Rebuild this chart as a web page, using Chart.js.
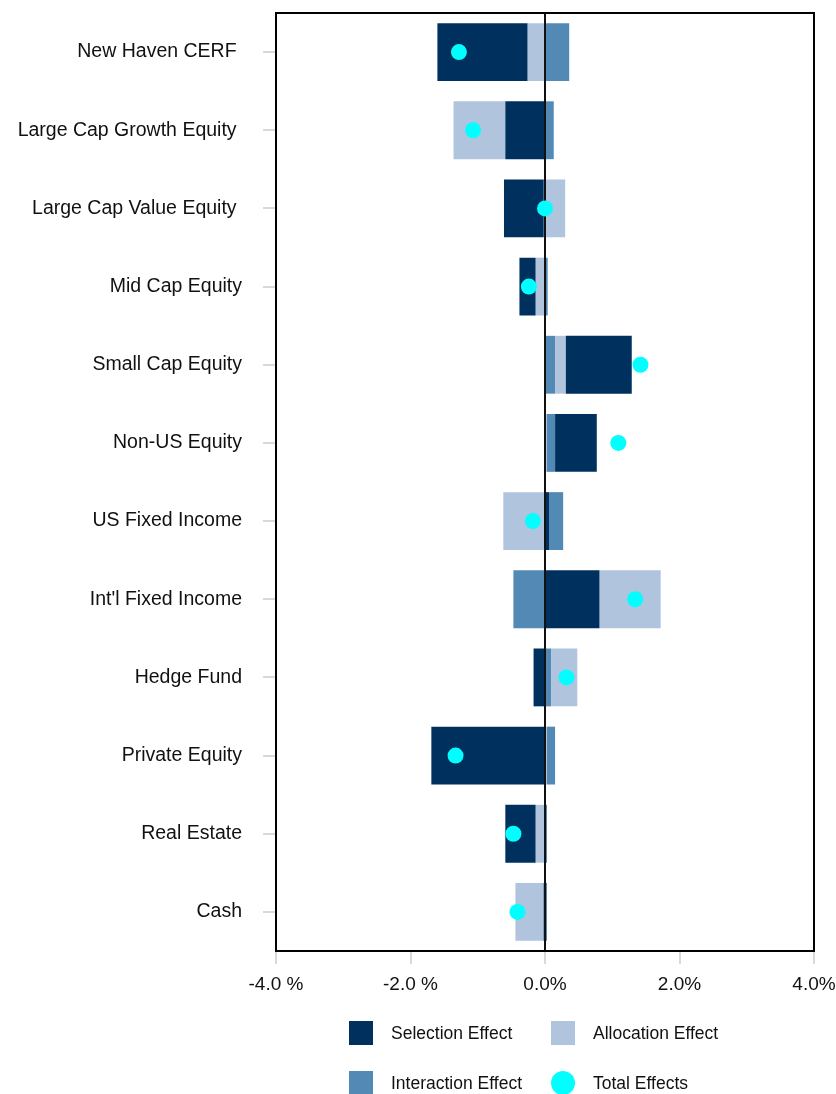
<!DOCTYPE html>
<html>
<head>
<meta charset="utf-8">
<script src="https://cdn.jsdelivr.net/npm/chart.js@4.4.1/dist/chart.umd.min.js"></script>
<style>
html,body{margin:0;padding:0;background:#fff;}
#wrap{width:836px;height:1094px;position:relative;}
</style>
</head>
<body>
<div id="wrap"><canvas id="c"></canvas></div>
<script>
// ---- data (percent) ----
const categories = [
  'New Haven CERF ', 'Large Cap Growth Equity ', 'Large Cap Value Equity ', 'Mid Cap Equity',
  'Small Cap Equity', 'Non-US Equity', 'US Fixed Income', "Int'l Fixed Income",
  'Hedge Fund', 'Private Equity', 'Real Estate', 'Cash'
];
const selectionEffect   = [-1.34, -0.59, -0.59, -0.24, 0.98, 0.62, 0.06, 0.81, -0.17, -1.69, -0.45, -0.02];
const allocationEffect  = [-0.26, -0.77,  0.30, -0.14, 0.16, 0.03, -0.62, 0.91, 0.39, 0.03, -0.14, -0.42];
const interactionEffect = [ 0.36,  0.13, -0.02,  0.04, 0.15, 0.12, 0.21, -0.47, 0.09, 0.12, 0.03, 0.03];
const totalEffects      = [-1.28, -1.07,  0.00, -0.24, 1.42, 1.09, -0.18, 1.34, 0.32, -1.33, -0.47, -0.41];
const xTickValues = [-4, -2, 0, 2, 4];
const xTickLabels = ['-4.0 %', '-2.0 %', '0.0%', '2.0%', '4.0%'];
const seriesNames = ['Selection Effect', 'Allocation Effect', 'Interaction Effect', 'Total Effects'];
const seriesColors = ['#00305E', '#B0C4DE', '#5289B5', '#00FFFF'];

// Stack each category's effects outward from zero, smallest magnitude nearest zero
function buildRanges(seriesList) {
  const out = seriesList.map(() => []);
  categories.forEach((_, i) => {
    let pos = 0, neg = 0;
    seriesList.map((s, k) => ({ k, v: s[i] }))
      .sort((a, b) => Math.abs(a.v) - Math.abs(b.v))
      .forEach(it => {
        if (it.v >= 0) { out[it.k][i] = [pos, pos + it.v]; pos += it.v; }
        else { out[it.k][i] = [neg + it.v, neg]; neg += it.v; }
      });
  });
  return out;
}
const ranges = buildRanges([selectionEffect, allocationEffect, interactionEffect]);

Chart.defaults.font.family = '"Liberation Sans", Arial, Helvetica, sans-serif';
Chart.defaults.color = '#111';

const zeroLine = {
  id: 'zeroLine',
  beforeDatasetDraw(chart, args) {
    if (args.index !== 3) return;
    const { ctx, chartArea } = chart;
    const x = chart.scales.x.getPixelForValue(0);
    ctx.save();
    ctx.strokeStyle = '#111';
    ctx.lineWidth = 2;
    ctx.beginPath();
    ctx.moveTo(x, chartArea.top);
    ctx.lineTo(x, chartArea.bottom);
    ctx.stroke();
    ctx.restore();
  }
};

const frame = {
  id: 'frame',
  afterDraw(chart) {
    const { ctx, chartArea: a } = chart;
    ctx.save();
    ctx.strokeStyle = '#000';
    ctx.lineWidth = 2;
    ctx.strokeRect(a.left, a.top, a.right - a.left, a.bottom - a.top);
    ctx.restore();
  }
};

const gridLegend = {
  id: 'gridLegend',
  afterDraw(chart) {
    const ctx = chart.ctx;
    const colX = [349, 551];
    const rowY = [1033, 1083];
    ctx.save();
    ctx.font = '17.5px "Liberation Sans", Arial, sans-serif';
    ctx.textBaseline = 'middle';
    ctx.textAlign = 'left';
    chart.data.datasets.forEach((ds, i) => {
      const x = colX[i % 2], y = rowY[Math.floor(i / 2)];
      ctx.fillStyle = ds.backgroundColor;
      if (ds.type === 'scatter') {
        ctx.beginPath();
        ctx.arc(x + 12, y, 12, 0, Math.PI * 2);
        ctx.fill();
      } else {
        ctx.fillRect(x, y - 12, 24, 24);
      }
      ctx.fillStyle = '#111';
      ctx.fillText(ds.label, x + 42, y + 1);
    });
    ctx.restore();
  }
};

const barCommon = {
  indexAxis: 'y',
  grouped: false,
  barPercentage: 0.74,
  categoryPercentage: 1.0,
  borderWidth: 0,
  order: 1
};

new Chart(document.getElementById('c'), {
  type: 'bar',
  data: {
    labels: categories,
    datasets: [
      Object.assign({ label: seriesNames[0], data: ranges[0], backgroundColor: seriesColors[0] }, barCommon),
      Object.assign({ label: seriesNames[1], data: ranges[1], backgroundColor: seriesColors[1] }, barCommon),
      Object.assign({ label: seriesNames[2], data: ranges[2], backgroundColor: seriesColors[2] }, barCommon),
      {
        type: 'scatter',
        label: seriesNames[3],
        data: totalEffects.map((v, i) => ({ x: v, y: categories[i] })),
        backgroundColor: seriesColors[3],
        borderWidth: 0,
        pointRadius: 8,
        pointHoverRadius: 8,
        order: 0
      }
    ]
  },
  options: {
    indexAxis: 'y',
    responsive: true,
    maintainAspectRatio: false,
    animation: false,
    layout: { padding: { left: 0, right: 22, top: 13, bottom: 100 } },
    plugins: { legend: { display: false }, tooltip: { enabled: false } },
    scales: {
      x: {
        type: 'linear',
        min: -4, max: 4,
        afterBuildTicks(scale) { scale.ticks = xTickValues.map(v => ({ value: v })); },
        ticks: {
          callback: (v) => xTickLabels[xTickValues.indexOf(v)],
          font: { size: 19 },
          color: '#111',
          padding: 9,
          maxRotation: 0
        },
        grid: { display: true, drawOnChartArea: false, drawTicks: true, tickLength: 13, tickColor: '#d9d9d9', lineWidth: 2 },
        border: { display: false },
        afterFit(scale) { scale.height = 43; scale.paddingLeft = 0; scale.paddingRight = 0; }
      },
      y: {
        type: 'category',
        offset: true,
        ticks: { font: { size: 19.5 }, color: '#111', padding: 21 },
        grid: { display: true, offset: false, drawOnChartArea: false, drawTicks: true, tickLength: 13, tickColor: '#d9d9d9', lineWidth: 2 },
        border: { display: false },
        afterFit(scale) { scale.width = 276; scale.paddingTop = 0; scale.paddingBottom = 0; }
      }
    }
  },
  plugins: [zeroLine, frame, gridLegend]
});
</script>
</body>
</html>
